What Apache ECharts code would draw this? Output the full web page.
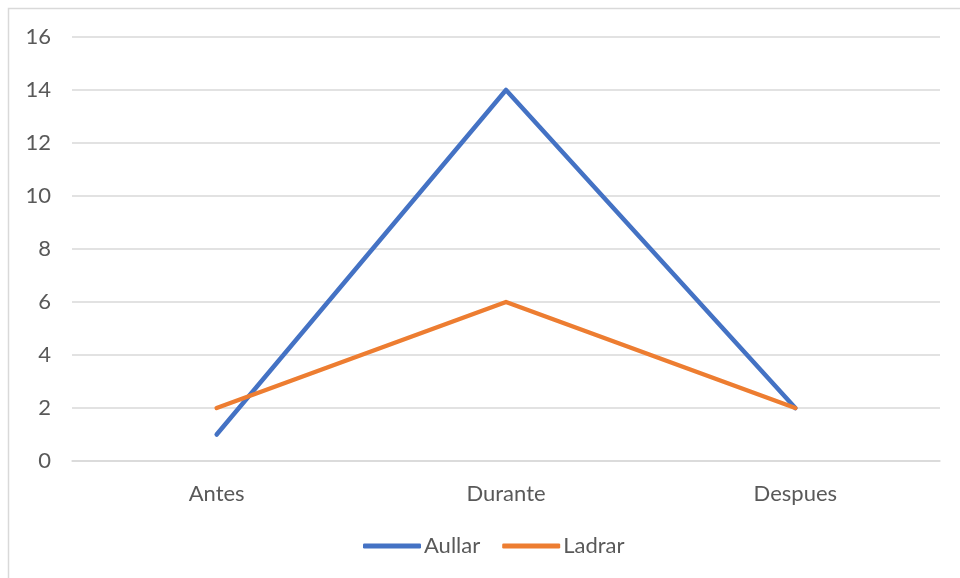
<!DOCTYPE html>
<html>
<head>
<meta charset="utf-8">
<script src="https://cdn.jsdelivr.net/npm/echarts@6/dist/echarts.min.js"></script>
<style>
  html, body { margin: 0; padding: 0; background: #ffffff; }
  #chart { width: 960px; height: 578px; }
</style>
</head>
<body>
<div id="chart"></div>
<script>
// Categories and series values
const categories = ['Antes', 'Durante', 'Despues'];
const aullar = [1, 14, 2];
const ladrar = [2, 6, 2];
const seriesNames = ['Aullar', 'Ladrar'];

const chart = echarts.init(document.getElementById('chart'));
const font = 'Lato, "Open Sans", sans-serif';

chart.setOption({
  backgroundColor: '#ffffff',
  animation: false,
  graphic: [{
    type: 'rect',
    shape: { x: 8.5, y: 8.5, width: 980, height: 600 },
    style: { fill: 'none', stroke: '#d9d9d9', lineWidth: 1.5 },
    silent: true
  }],
  grid: { left: 72, right: 20, top: 37, bottom: 117 },
  legend: {
    bottom: 16,
    left: 358,
    itemWidth: 58,
    itemHeight: 5,
    itemGap: 22,
    icon: 'roundRect',
    textStyle: { color: '#595959', fontSize: 22, fontFamily: font, padding: [0, 0, 0, -2] },
    data: seriesNames
  },
  xAxis: {
    type: 'category',
    data: categories,
    boundaryGap: true,
    axisLine: { show: true, lineStyle: { color: '#d9d9d9', width: 1.5 } },
    axisTick: { show: false },
    axisLabel: { color: '#595959', fontSize: 22, fontFamily: font, margin: 22 }
  },
  yAxis: {
    type: 'value',
    min: 0,
    max: 16,
    interval: 2,
    axisLine: { show: false },
    axisTick: { show: false },
    axisLabel: { color: '#595959', fontSize: 22, fontFamily: font, margin: 21 },
    splitLine: { lineStyle: { color: '#d9d9d9', width: 1.5 } }
  },
  series: [
    {
      name: seriesNames[0],
      type: 'line',
      data: aullar,
      symbol: 'none',
      color: '#4472C4',
      lineStyle: { width: 4.5, cap: 'round', join: 'round' }
    },
    {
      name: seriesNames[1],
      type: 'line',
      data: ladrar,
      symbol: 'none',
      color: '#ED7D31',
      lineStyle: { width: 4.5, cap: 'round', join: 'round' }
    }
  ]
});
</script>
</body>
</html>
